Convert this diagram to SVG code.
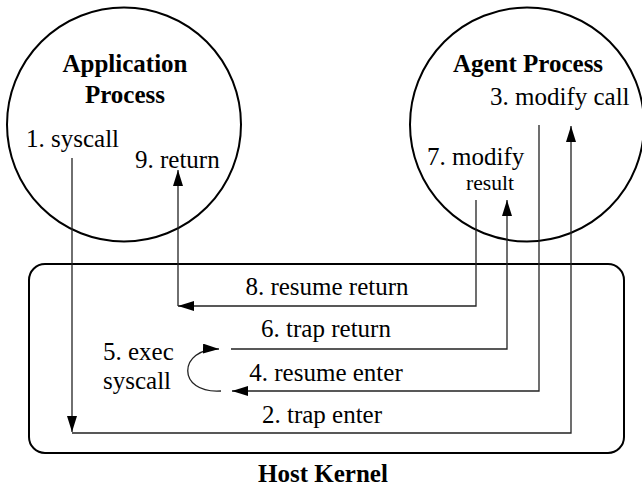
<svg xmlns="http://www.w3.org/2000/svg" width="642" height="489" viewBox="0 0 642 489">
<style>
  text{font-family:'Liberation Serif','Times New Roman','DejaVu Serif',serif;fill:#000}
  .b{font-weight:bold;font-size:25px}
  .t{font-size:25px}
  .shape{fill:none;stroke:#000;stroke-width:2}
  .c{fill:none;stroke:#222;stroke-width:1.3}
</style>
<defs>
  <marker id="ah" markerUnits="userSpaceOnUse" markerWidth="17" markerHeight="11" refX="16" refY="5" orient="auto" viewBox="0 0 17 11">
    <path d="M0,0 L16,5 L0,10 z" fill="#000"/>
  </marker>
</defs>
<rect fill="#fff" x="0" y="0" width="642" height="489"/>
<g id="app">
  <circle class="shape" cx="124" cy="124.5" r="117"/>
  <text class="b" x="125" y="72" text-anchor="middle">Application</text>
  <text class="b" x="125" y="103" text-anchor="middle">Process</text>
  <text class="t" x="26" y="147">1. syscall</text>
  <text class="t" x="135" y="168">9. return</text>
</g>
<g id="agent">
  <circle class="shape" cx="527" cy="124.5" r="117"/>
  <text class="b" x="528" y="72" text-anchor="middle">Agent Process</text>
  <text class="t" x="490" y="105">3. modify call</text>
  <text class="t" x="427" y="165">7. modify</text>
  <text class="t" x="466" y="190" style="font-size:22px" textLength="48" lengthAdjust="spacingAndGlyphs">result</text>
</g>
<g id="kernel">
  <rect class="shape" x="29" y="264" width="595" height="189" rx="16"/>
  <text class="b" x="323" y="482" text-anchor="middle">Host Kernel</text>
  <text class="t" x="103" y="360">5. exec</text>
  <text class="t" x="103" y="389">syscall</text>
</g>
<g id="connectors">
  <path class="c" d="M72,158 V432" marker-end="url(#ah)"/>
  <path class="c" d="M72,433 H571 V126" marker-end="url(#ah)"/>
  <path class="c" d="M539,125 V391 H232" marker-end="url(#ah)"/>
  <path class="c" d="M221,391 C176,394 178,348 219,349" marker-end="url(#ah)"/>
  <path class="c" d="M231,349 H507 V200" marker-end="url(#ah)"/>
  <path class="c" d="M476,200 V306 H178" marker-end="url(#ah)"/>
  <path class="c" d="M178,306 V170" marker-end="url(#ah)"/>
  <text class="t" x="327" y="295" text-anchor="middle">8. resume return</text>
  <text class="t" x="326" y="337" text-anchor="middle">6. trap return</text>
  <text class="t" x="326" y="381" text-anchor="middle">4. resume enter</text>
  <text class="t" x="322" y="423" text-anchor="middle">2. trap enter</text>
</g>
</svg>
